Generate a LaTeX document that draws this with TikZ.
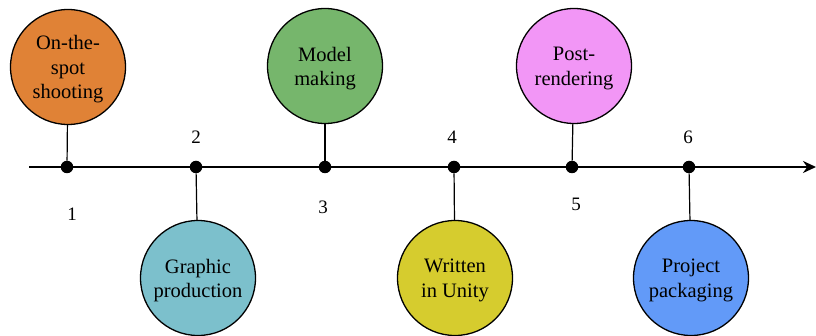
\documentclass[tikz,border=0pt]{standalone}
\usepackage{fontspec}
\setmainfont{Liberation Serif}
\usetikzlibrary{arrows.meta}
\definecolor{cOrange}{RGB}{224,130,54}
\definecolor{cTeal}{RGB}{124,192,204}
\definecolor{cGreen}{RGB}{118,182,108}
\definecolor{cYellow}{RGB}{214,204,46}
\definecolor{cPink}{RGB}{242,150,246}
\definecolor{cBlue}{RGB}{98,154,248}
\begin{document}
\begin{tikzpicture}[x=1pt,y=-1pt,
  stage/.style={circle,draw=black,line width=1.3pt,minimum size=115pt,inner sep=0pt,
    label={[yshift=-2.5pt,align=center,font=\fontsize{20.5}{24.5}\selectfont]center:#1}},
  tick/.style={circle,fill=black,minimum size=12.5pt,inner sep=0pt},
  stem/.style={line width=1.2pt},
  num/.style={font=\fontsize{19}{22}\selectfont}]
\useasboundingbox (0,0) rectangle (816,336);
% time axis
\coordinate (start) at (29,167);
\coordinate (end) at (816,167);
\draw[line width=2.8pt,-{Stealth[length=13pt,width=12pt]}] (start) -- (end);
% points on the axis
\node[tick] (t1) at (67,167) {};
\node[tick] (t2) at (196,167) {};
\node[tick] (t3) at (325,167) {};
\node[tick] (t4) at (454,167) {};
\node[tick] (t5) at (572,167) {};
\node[tick] (t6) at (689,167) {};
% stages
\node[stage={On-the-\\spot\\shooting},fill=cOrange] (s1) at (68,67) {};
\node[stage={Graphic\\production},fill=cTeal] (s2) at (198,278) {};
\node[stage={Model\\making},fill=cGreen] (s3) at (325,66) {};
\node[stage={Written\\in Unity},fill=cYellow] (s4) at (455,278) {};
\node[stage={Post-\\rendering},fill=cPink] (s5) at (574,66) {};
\node[stage={Project\\packaging},fill=cBlue] (s6) at (691,278) {};
% stems
\draw[stem] (s1) -- (t1);
\draw[stem] (s2) -- (t2);
\draw[stem] (s3) -- (t3);
\draw[stem] (s4) -- (t4);
\draw[stem] (s5) -- (t5);
\draw[stem] (s6) -- (t6);
% step numbers
\node[num] (n1) at (72,214) {1};
\node[num] (n2) at (196,137) {2};
\node[num] (n3) at (323,207) {3};
\node[num] (n4) at (452,137) {4};
\node[num] (n5) at (576,204) {5};
\node[num] (n6) at (688,137) {6};
\end{tikzpicture}
\end{document}
